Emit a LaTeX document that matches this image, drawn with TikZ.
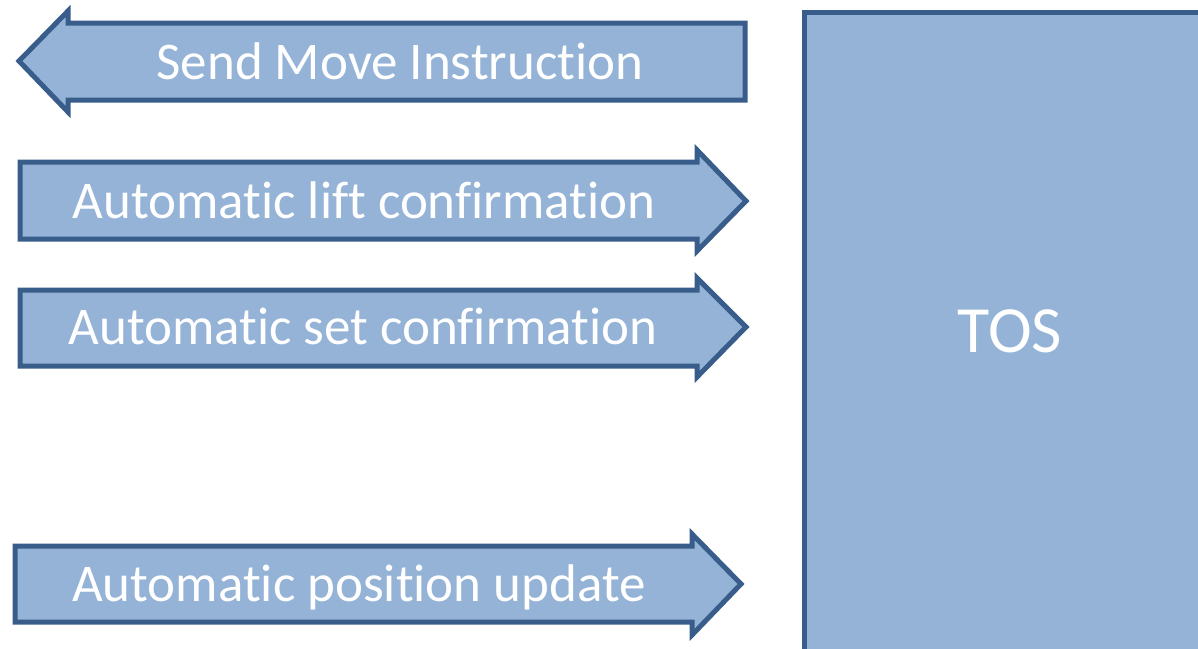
\documentclass[tikz,border=0pt]{standalone}
\usepackage{fontspec}
\setmainfont{Carlito}[Ligatures={NoCommon,NoRequired,NoContextual}]
\definecolor{arrfill}{HTML}{95B3D7}
\definecolor{arrline}{HTML}{385D8A}
\begin{document}
\begin{tikzpicture}[x=1pt,y=-1pt,
  shapebox/.style={fill=arrfill,draw=arrline,line width=5pt,line join=miter},
  lbl/.style={text=white,font=\fontsize{53}{62}\selectfont,inner sep=0pt,anchor=base},
  biglbl/.style={text=white,font=\fontsize{66}{76}\selectfont,inner sep=0pt,anchor=base}]
\useasboundingbox (0,0) rectangle (1198,648);
% TOS box
\draw[shapebox] (804,12) rectangle (1200,652);
\node[biglbl] (tos) at (1010,352) {TOS};
% Arrow 1: left-pointing
\draw[shapebox] (745,23) -- (68,23) -- (68,11) -- (19,61) -- (68,112) -- (68,100) -- (745,100) -- cycle;
\node[lbl] (send) at (400,79) {Send Move Instruction};
% Arrow 2
\draw[shapebox] (20,162) -- (697,162) -- (697,150) -- (746,201) -- (697,251) -- (697,239) -- (20,239) -- cycle;
\node[lbl] (lift) at (364,218) {Automatic lift confirmation};
% Arrow 3
\draw[shapebox] (20,290) -- (697,290) -- (697,278) -- (746,327) -- (697,377) -- (697,366) -- (20,366) -- cycle;
\node[lbl] (set) at (363,344) {Automatic set confirmation};
% Arrow 4
\draw[shapebox] (15,546) -- (692,546) -- (692,534) -- (741,584) -- (692,635) -- (692,622) -- (15,622) -- cycle;
\node[lbl] (pos) at (359,601) {Automatic position update};
\end{tikzpicture}
\end{document}
